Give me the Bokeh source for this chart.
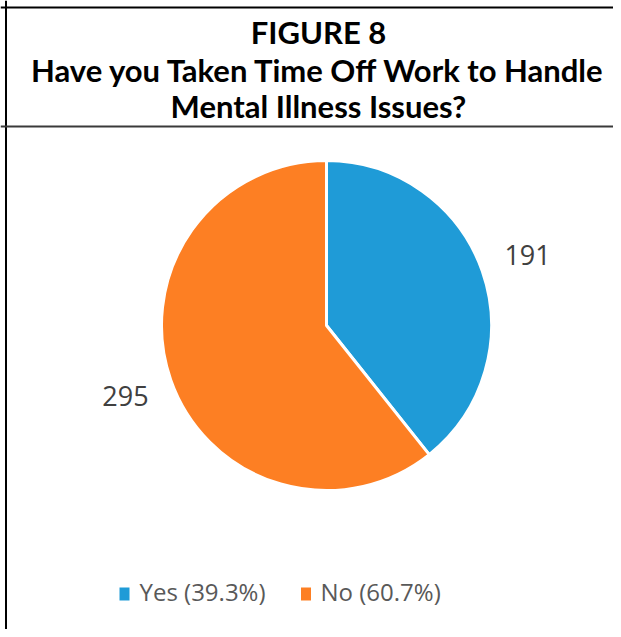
import math
from bokeh.plotting import figure
from bokeh.models import Range1d, Span, ColumnDataSource
from bokeh.core.properties import value
from bokeh.embed import file_html
from bokeh.resources import INLINE

# ---- data ----
categories = ["Yes", "No"]
counts = [191, 295]
colors = ["#1f9bd7", "#fd7f23"]
title_lines = ["FIGURE 8", "Have you Taken Time Off Work to Handle", "Mental Illness Issues?"]

W, H = 613, 629
p = figure(width=W, height=H, output_backend="svg", toolbar_location=None,
           x_range=Range1d(0, W), y_range=Range1d(0, H), min_border=0,
           outline_line_color=None)
p.axis.visible = False
p.grid.visible = False
p.background_fill_color = "white"
p.border_fill_color = "white"

def fy(page_y):
    return H - page_y

def fx(page_x):
    return page_x

# borders
p.add_layout(Span(location=fx(5.5), dimension="height", line_color="black", line_width=2))
p.add_layout(Span(location=fy(7), dimension="width", line_color="black", line_width=2))
p.add_layout(Span(location=fy(126), dimension="width", line_color="#3a3a3a", line_width=2))

# title
title_y = [31, 69, 105]
for line, yy in zip(title_lines, title_y):
    p.text(x=[fx(318)], y=[fy(yy)], text=[line], text_font=value("Lato"),
           text_font_style="bold", text_font_size="31px", text_color="black",
           text_align="center", text_baseline="middle")

# pie
total = sum(counts)
cx, cy, r = fx(326), fy(325), 165
starts, ends, lx, ly, labels = [], [], [], [], []
a = math.pi / 2
for c in counts:
    span = 2 * math.pi * c / total
    starts.append(a)
    ends.append(a - span)
    m = a - span / 2
    lx.append(cx + 213 * math.cos(m))
    ly.append(cy + 213 * math.sin(m))
    labels.append(str(c))
    a -= span

src = ColumnDataSource(dict(start=starts, end=ends, color=colors, lx=lx, ly=ly, label=labels))
p.wedge(x=cx, y=cy, radius=r, start_angle="start", end_angle="end", direction="clock",
        fill_color="color", line_color="white", line_width=3, source=src)
p.text(x="lx", y="ly", text="label", source=src, text_font=value("Open Sans"),
       text_font_size="27px", text_color="#404040", text_align="center", text_baseline="middle")

# legend
leg_sq_x = [fx(124), fx(305.5)]
leg_tx = [fx(139), fx(320)]
leg_text = ["%s (%.1f%%)" % (cat, 100.0 * c / total) for cat, c in zip(categories, counts)]
p.rect(x=leg_sq_x, y=[fy(593.5)] * 2, width=10, height=13, width_units="screen",
       height_units="screen", fill_color=colors, line_color=None)
p.text(x=leg_tx, y=[fy(591)] * 2, text=leg_text, text_font=value("Open Sans"),
       text_font_size="24px", text_color="#595959", text_align="left", text_baseline="middle")

open("out.html", "w").write(file_html(p, INLINE))
